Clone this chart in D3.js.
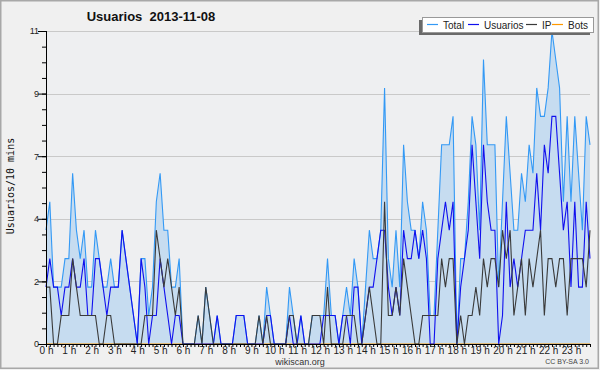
<!DOCTYPE html>
<html><head><meta charset="utf-8">
<script src="https://cdn.jsdelivr.net/npm/d3@7"></script>
<style>body{margin:0;background:#fff}svg{display:block}</style>
</head><body>
<svg id="c" width="600" height="370"></svg>
<script>
const title = "Usuarios  2013-11-08";
const yTitle = "Usuarios/10 mins";
const hourLabels = ["0 h","1 h","2 h","3 h","4 h","5 h","6 h","7 h","8 h","9 h","10 h","11 h","12 h","13 h","14 h","15 h","16 h","17 h","18 h","19 h","20 h","21 h","22 h","23 h"];
const yTicks = [0, 2.2, 4.4, 6.6, 8.8, 11];
const seriesNames = ["Total","Usuarios","IP","Bots"];
const total = [4,5,2,2,2,3,3,6,4,3,4,2,2,4,3,2,2,3,2,2,4,3,2,1,0,3,3,1,2,5,6,4,4,2,2,3,
0,0,0,0,1,0,2,1,0,1,0,0,0,0,1,1,1,0,0,0,1,0,2,1,0,0,0,0,2,1,0,1,0,0,1,1,
1,1,3,1,1,0,1,2,1,3,2,0,2,4,3,3,4,9,3,2,4,2,7,5,4,4,3,5,4,1,1,4,7,7,7,8,
0,3,3,5,8,7,4,10,7,7,7,2,5,8,6,4,4,6,5,7,6,9,8,8,9,11,10,9,5,8,5,8,6,4,8,7];
const usuarios = [2,3,2,2,1,2,2,3,2,2,3,1,1,3,3,2,1,2,2,2,4,3,2,1,0,3,2,0,1,1,3,2,1,0,1,1,
0,0,0,0,0,0,0,0,0,1,0,0,0,0,1,1,1,0,0,0,0,0,1,1,0,0,0,0,1,0,0,1,0,0,0,0,
0,1,1,1,1,0,1,1,0,2,2,0,1,2,2,3,4,4,2,1,2,1,4,3,3,4,3,4,3,0,0,3,4,5,4,5,
0,2,3,4,7,5,3,7,5,4,4,0,1,5,2,3,2,3,4,4,4,6,4,7,6,8,8,6,4,5,2,5,2,2,5,3];
const ip = [2,2,0,0,1,1,1,3,2,1,1,1,1,1,0,0,1,1,0,0,0,0,0,0,0,0,1,1,1,4,3,2,3,2,1,2,
0,0,0,0,1,0,2,1,0,0,0,0,0,0,0,0,0,0,0,0,1,0,1,0,0,0,0,0,1,1,0,0,0,0,1,1,
1,0,2,0,0,0,0,1,1,1,0,0,1,2,1,0,0,5,1,1,2,1,3,2,1,0,0,1,1,1,1,1,3,2,3,3,
0,1,0,1,1,2,1,3,2,3,3,2,4,3,4,1,2,3,1,3,2,3,4,1,3,3,2,3,3,1,3,3,3,3,2,4];
const bots = [0,0,0,0,0,0,0,0,0,0,0,0,0,0,0,0,0,0,0,0,0,0,0,0,0,0,0,0,0,0,0,0,0,0,0,0,
0,0,0,0,0,0,0,0,0,0,0,0,0,0,0,0,0,0,0,0,0,0,0,0,0,0,0,0,0,0,0,0,0,0,0,0,
0,0,0,0,0,0,0,0,0,0,0,0,0,0,0,0,0,0,0,0,0,0,0,0,0,0,0,0,0,0,0,0,0,0,0,0,
0,0,0,0,0,0,0,0,0,0,0,0,0,0,0,0,0,0,0,0,0,0,0,0,0,0,0,0,0,0,0,0,0,0,0,0];
const colors = {Total:"#3399f5", Usuarios:"#1010ee", IP:"#3a3a3a", Bots:"#ff9900"};

const svg = d3.select("#c");
svg.append("rect").attr("x",0).attr("y",0).attr("width",600).attr("height",370).attr("fill","#f0f0f0");
svg.append("rect").attr("x",0.75).attr("y",0.75).attr("width",597.5).attr("height",367.5)
  .attr("fill","none").attr("stroke","#a8a8a8").attr("stroke-width",1.5);

const x = d3.scaleLinear().domain([0, total.length-1]).range([46, 590]);
const y = d3.scaleLinear().domain([0, 11]).range([344, 31]);

svg.append("rect").attr("x",46).attr("y",31).attr("width",544).attr("height",313).attr("fill","#eeeff1");
svg.append("g").selectAll("line").data(yTicks.slice(1)).join("line")
  .attr("x1",46).attr("x2",590).attr("y1",d=>Math.round(y(d))+0.5).attr("y2",d=>Math.round(y(d))+0.5)
  .attr("stroke","#c9c9c9").attr("stroke-width",1);

const idx = d3.range(total.length);
svg.append("path").datum(idx)
  .attr("d", d3.area().x(i=>x(i)).y0(y(0)).y1(i=>y(total[i])))
  .attr("fill","#c6dcf0");
function line(arr, col){
  svg.append("path").datum(idx)
    .attr("d", d3.line().x(i=>x(i)).y(i=>y(arr[i])))
    .attr("fill","none").attr("stroke",col).attr("stroke-width",1.1).attr("stroke-linejoin","miter");
}
line(bots, colors.Bots);
line(total, colors.Total);
line(usuarios, colors.Usuarios);
line(ip, colors.IP);

// y axis
const minor = d3.range(0, 21).map(k => k*0.55);
const gy = svg.append("g").attr("transform","translate(46,0)")
  .call(d3.axisLeft(y).tickValues(minor).tickSize(4).tickFormat(""));
gy.select(".domain").attr("stroke","#000").attr("d","M0.5,31V344");
gy.selectAll(".tick line").attr("stroke","#000");
const gy2 = svg.append("g").attr("transform","translate(46,0)")
  .call(d3.axisLeft(y).tickValues(yTicks).tickSize(8).tickPadding(0).tickFormat(d=>Math.round(d)));
gy2.select(".domain").remove();
gy2.selectAll(".tick line").attr("stroke","#000");
gy2.selectAll(".tick text").attr("font-family","Liberation Sans, Arial, sans-serif").attr("font-size",9)
  .attr("fill","#222").attr("x",-7).attr("dy","0.32em");

// x axis
const hourIdx = d3.range(0, 24).map(h => h*6);
const gx = svg.append("g").attr("transform","translate(0,344)")
  .call(d3.axisBottom(x).tickValues(idx).tickSize(3).tickFormat(""));
gx.select(".domain").attr("stroke","#000").attr("d","M46,0.5H590");
gx.selectAll(".tick line").attr("stroke","#000");
const gx2 = svg.append("g").attr("transform","translate(0,344)")
  .call(d3.axisBottom(x).tickValues(hourIdx).tickSize(0).tickPadding(3).tickFormat((d,i)=>hourLabels[i]));
gx2.select(".domain").remove();
gx2.selectAll(".tick text").attr("font-family","Liberation Sans, Arial, sans-serif").attr("font-size",10).attr("fill","#222");

// titles
svg.append("text").attr("x",151).attr("y",21).attr("text-anchor","middle").style("white-space","pre")
  .attr("font-family","Liberation Sans, Arial, sans-serif").attr("font-weight","bold").attr("font-size",13).attr("fill","#111")
  .text(title);
svg.append("text").attr("transform","translate(14,186) rotate(-90)").attr("text-anchor","middle")
  .attr("font-family","DejaVu Sans Mono, monospace").attr("font-size",10).attr("fill","#111").text(yTitle);
svg.append("text").attr("x",300).attr("y",365).attr("text-anchor","middle")
  .attr("font-family","Liberation Sans, Arial, sans-serif").attr("font-size",9).attr("fill","#333").text("wikiscan.org");
svg.append("text").attr("x",589).attr("y",364).attr("text-anchor","end")
  .attr("font-family","Liberation Sans, Arial, sans-serif").attr("font-size",7).attr("fill","#444").text("CC BY-SA 3.0");

// legend
const lg = svg.append("g");
lg.append("rect").attr("x",419).attr("y",20).attr("width",171).attr("height",15).attr("fill","#6a6a6a");
lg.append("rect").attr("x",422.5).attr("y",17.5).attr("width",171).attr("height",15).attr("fill","#fff").attr("stroke","#999");
const items = [
  {n:"Total", lx:427, tx:443},
  {n:"Usuarios", lx:468, tx:484},
  {n:"IP", lx:526, tx:542},
  {n:"Bots", lx:552, tx:568}
];
items.forEach(it=>{
  lg.append("line").attr("x1",it.lx).attr("x2",it.lx+11).attr("y1",24.5).attr("y2",24.5)
    .attr("stroke",colors[it.n]).attr("stroke-width",1.2);
  lg.append("text").attr("x",it.tx).attr("y",28.5).attr("font-family","Liberation Sans, Arial, sans-serif")
    .attr("font-size",10).attr("fill","#222").text(it.n);
});
</script>
</body></html>
